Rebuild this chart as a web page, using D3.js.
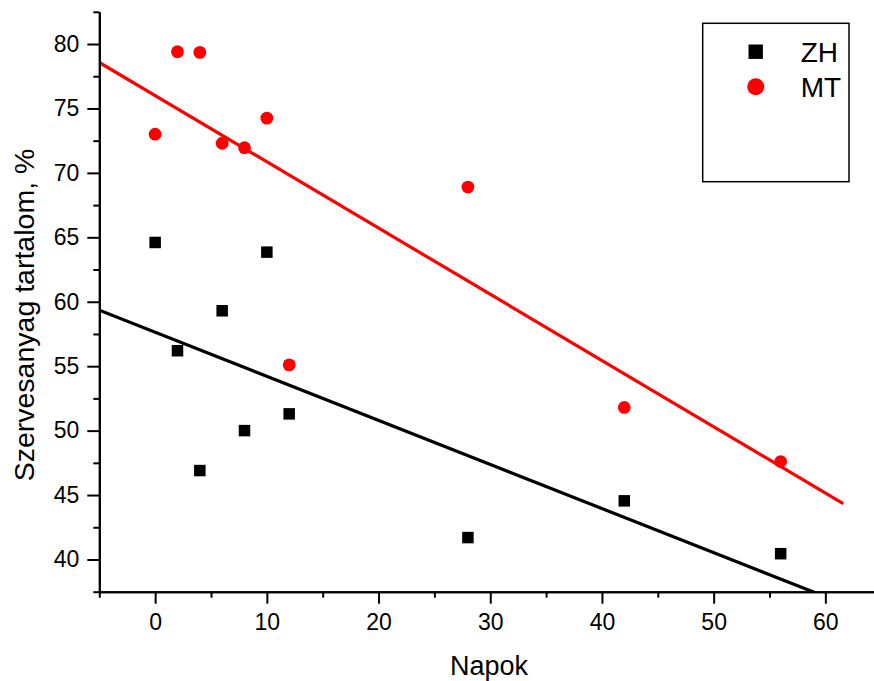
<!DOCTYPE html>
<html>
<head>
<meta charset="utf-8">
<script src="https://cdn.jsdelivr.net/npm/d3@7/dist/d3.min.js"></script>
<style>
  html, body { margin: 0; padding: 0; background: #fff; overflow: hidden; }
  svg { display: block; }
  text { font-family: "Liberation Sans", Arial, sans-serif; fill: #000; }
</style>
</head>
<body>
<svg id="chart" width="874" height="681"></svg>
<script>
// Sampling days and organic matter content (%) of the two series
const days = [0, 2, 4, 6, 8, 10, 12, 28, 42, 56];
const zhValues = [64.6, 56.2, 46.9, 59.3, 50.0, 63.85, 51.3, 41.7, 44.55, 40.45];
const mtValues = [73.0, 79.4, 79.35, 72.3, 71.95, 74.25, 55.1, 68.9, 51.8, 47.6];

const seriesNames = ["ZH", "MT"];
const seriesColors = ["#000000", "#ff0000"];

// Axis ticks
const xMajorTicks = [0, 10, 20, 30, 40, 50, 60];
const xMinorTicks = [-5, 5, 15, 25, 35, 45, 55, 65];
const yMajorTicks = [40, 45, 50, 55, 60, 65, 70, 75, 80];
const yMinorTicks = [37.5, 42.5, 47.5, 52.5, 57.5, 62.5, 67.5, 72.5, 77.5, 82.5];

// Span of the fitted lines along the day axis
const fitSpan = [-5, 61.6];

const svg = d3.select("#chart");

const x = d3.scaleLinear().domain([-5, 65]).range([99.3, 881.2]);
const y = d3.scaleLinear().domain([37.5, 82.5]).range([591.7, 11.8]);

// Least-squares line through a series
function linearFit(xs, ys) {
  const mx = d3.mean(xs), my = d3.mean(ys);
  let sxy = 0, sxx = 0;
  xs.forEach((v, i) => { sxy += (v - mx) * (ys[i] - my); sxx += (v - mx) * (v - mx); });
  const slope = sxy / sxx;
  return { slope, intercept: my - slope * mx };
}

svg.append("defs").append("clipPath").attr("id", "plotClip")
  .append("rect")
  .attr("x", x(-5)).attr("y", y(82.5))
  .attr("width", x(65) - x(-5)).attr("height", y(37.5) - y(82.5));

// Regression lines
const lineGroup = svg.append("g").attr("clip-path", "url(#plotClip)");
[zhValues, mtValues].forEach((vals, i) => {
  const fit = linearFit(days, vals);
  const pts = fitSpan.map(d => [d, fit.intercept + fit.slope * d]);
  lineGroup.append("path")
    .attr("d", d3.line().x(d => x(d[0])).y(d => y(d[1]))(pts))
    .attr("fill", "none")
    .attr("stroke", seriesColors[i])
    .attr("stroke-width", 3.2);
});

// ZH markers: squares
const sq = 11.5;
svg.append("g").selectAll("rect")
  .data(days.map((d, i) => [d, zhValues[i]]))
  .join("rect")
  .attr("x", d => x(d[0]) - sq / 2)
  .attr("y", d => y(d[1]) - sq / 2)
  .attr("width", sq).attr("height", sq)
  .attr("fill", seriesColors[0]);

// MT markers: circles
svg.append("g").selectAll("circle")
  .data(days.map((d, i) => [d, mtValues[i]]))
  .join("circle")
  .attr("cx", d => x(d[0]))
  .attr("cy", d => y(d[1]))
  .attr("r", 6.4)
  .attr("fill", seriesColors[1]);

// Axes
function styleAxis(g) {
  g.selectAll("path.domain").attr("stroke", "#000").attr("stroke-width", 2);
  g.selectAll(".tick line").attr("stroke", "#000").attr("stroke-width", 2);
  g.selectAll("text")
    .style("font-family", '"Liberation Sans", Arial, sans-serif')
    .style("font-size", "23px")
    .attr("fill", "#000");
}

const xAxisG = svg.append("g").attr("transform", `translate(0,${y(37.5)})`);
xAxisG.append("g")
  .call(d3.axisBottom(x).tickValues(xMinorTicks).tickSize(6).tickSizeOuter(0).tickFormat(""))
  .call(styleAxis);
xAxisG.append("g")
  .call(d3.axisBottom(x).tickValues(xMajorTicks).tickSize(12).tickSizeOuter(0).tickPadding(10).tickFormat(d3.format("d")))
  .call(styleAxis);

const yAxisG = svg.append("g").attr("transform", `translate(${x(-5)},0)`);
yAxisG.append("g")
  .call(d3.axisLeft(y).tickValues(yMinorTicks).tickSize(6).tickSizeOuter(0).tickFormat(""))
  .call(styleAxis);
yAxisG.append("g")
  .call(d3.axisLeft(y).tickValues(yMajorTicks).tickSize(12).tickSizeOuter(0).tickPadding(8).tickFormat(d3.format("d")))
  .call(styleAxis);

// Axis titles
svg.append("text")
  .attr("x", 489).attr("y", 675)
  .attr("text-anchor", "middle")
  .style("font-size", "27px")
  .text("Napok");

svg.append("text")
  .attr("transform", "translate(33.5,315) rotate(-90)")
  .attr("text-anchor", "middle")
  .style("font-size", "28.5px")
  .text("Szervesanyag tartalom, %");

// Legend
const legend = svg.append("g");
legend.append("rect")
  .attr("x", 702.7).attr("y", 23.3)
  .attr("width", 146.3).attr("height", 158.4)
  .attr("fill", "#fff").attr("stroke", "#000").attr("stroke-width", 1.5);

seriesNames.forEach((name, i) => {
  const cy = 51.7 + i * 35;
  if (i === 0) {
    legend.append("rect")
      .attr("x", 755.7 - 7.2).attr("y", cy - 7.2)
      .attr("width", 14.4).attr("height", 14.4)
      .attr("fill", seriesColors[i]);
  } else {
    legend.append("circle")
      .attr("cx", 755.7).attr("cy", cy).attr("r", 8.5)
      .attr("fill", seriesColors[i]);
  }
  legend.append("text")
    .attr("x", 800.7).attr("y", cy + 10.3)
    .style("font-size", "28px")
    .text(name);
});
</script>
</body>
</html>
